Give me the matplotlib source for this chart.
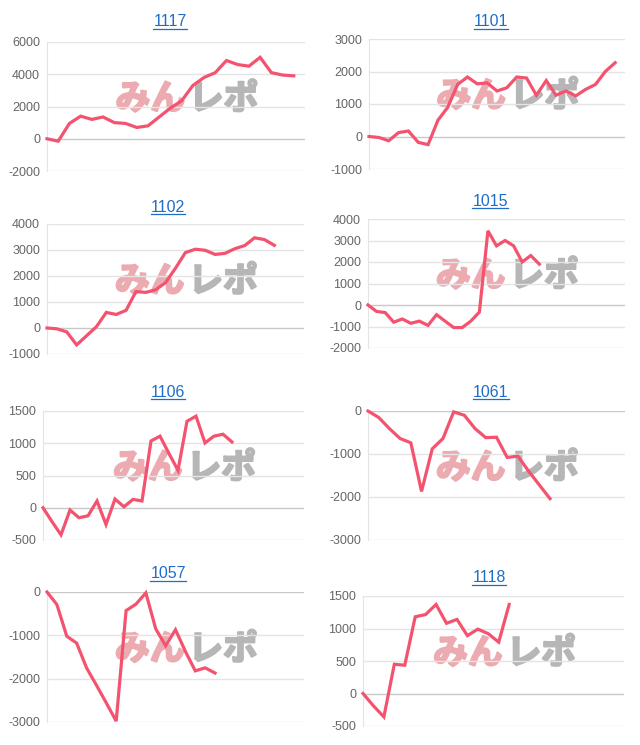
import matplotlib.pyplot as plt
import matplotlib.patheffects as pe

plt.rcParams['font.family'] = ['Liberation Sans', 'DejaVu Sans']

# 台番号ごとの差枚推移
titles = ["1117", "1101", "1102", "1015", "1106", "1061", "1057", "1118"]

v1117 = [0, -150, 950, 1400, 1200, 1350, 1000, 950, 700, 800, 1350, 1900,
         2350, 3300, 3800, 4100, 4850, 4600, 4500, 5050, 4100, 3950, 3900]
v1101 = [0, -30, -130, 120, 170, -180, -250, 500, 900, 1600, 1830, 1620,
         1650, 1400, 1500, 1830, 1800, 1270, 1720, 1270, 1400, 1250, 1450,
         1600, 2000, 2270]
v1102 = [0, -30, -150, -650, -300, 50, 600, 520, 680, 1400, 1370, 1470,
         1750, 2300, 2900, 3030, 2990, 2830, 2870, 3050, 3170, 3470, 3400, 3180]
v1015 = [0, -300, -350, -800, -650, -850, -750, -950, -450, -750, -1050,
         -1050, -750, -330, 3450, 2750, 3000, 2750, 2000, 2300, 1900]
v1106 = [0, -215, -420, -35, -155, -125, 105, -260, 135, 15, 130, 105,
         1035, 1110, 840, 580, 1340, 1420, 1005, 1110, 1140, 1020]
v1061 = [0, -150, -410, -640, -740, -1870, -880, -640, -20, -100, -410,
         -620, -610, -1080, -1050, -1400, -1720, -2040]
v1057 = [0, -290, -1020, -1180, -1750, -2150, -2560, -2980, -430, -280, -20,
         -850, -1240, -870, -1370, -1820, -1750, -1870]
v1118 = [0, -190, -360, 450, 435, 1180, 1215, 1370, 1080, 1140, 890, 990,
         920, 790, 1370]
series = [v1117, v1101, v1102, v1015, v1106, v1061, v1057, v1118]

# 横軸のカテゴリ数
slots = [24, 27, 27, 31, 30, 25, 27, 26]
ylims = [(-2000, 6000), (-1000, 3000), (-1000, 4000), (-2000, 4000),
         (-500, 1500), (-3000, 0), (-3000, 0), (-500, 1500)]
ysteps = [2000, 1000, 1000, 1000, 500, 1000, 1000, 500]

W, H = 640, 745
# 各グラフの位置 (px): left, right, top, bottom / タイトル中心
boxes = [(47, 305, 42, 171), (369, 625, 39, 169),
         (47, 304, 224, 354), (368, 625, 219, 348),
         (43, 304, 411, 540), (368, 625, 411, 540),
         (47, 304, 592, 722), (363, 624, 596, 726)]
tpos = [(170, 22), (491, 22), (168, 207), (490, 201),
        (168, 393), (491, 393), (168, 574), (489, 578)]

line_color = '#f4536f'
title_color = '#1e6ec8'
wm_font = ['Noto Sans CJK JP', 'DejaVu Sans']

fig = plt.figure(figsize=(W / 100, H / 100), dpi=100)

title_texts = []
for i, vals in enumerate(series):
    l, r, t, b = boxes[i]
    ax = fig.add_axes([l / W, 1 - b / H, (r - l) / W, (b - t) / H])
    lo, hi = ylims[i]
    ax.set_xlim(0, slots[i] - 1)
    ax.set_ylim(lo, hi)
    ticks = list(range(lo, hi + 1, ysteps[i]))
    ax.set_yticks(ticks)
    ax.set_yticklabels([str(v) for v in ticks])
    ax.set_xticks([])
    for v in ticks:
        ax.axhline(v, color='#c8c8c8' if v == 0 else '#e4e4e4', lw=1, zorder=1)
    for s in ['top', 'right', 'bottom']:
        ax.spines[s].set_visible(False)
    ax.spines['left'].set_color('#e4e4e4')
    ax.tick_params(axis='y', length=0, pad=5, labelsize=9, labelcolor='#666666')

    # 透かしロゴ
    ax.text(0.535, 0.56, "みん", transform=ax.transAxes, ha='right', va='center',
            fontsize=25, fontweight='bold', color='#ebabb0', family=wm_font,
            zorder=0, path_effects=[pe.withStroke(linewidth=1.6, foreground='#ebabb0')])
    ax.text(0.55, 0.56, "レポ", transform=ax.transAxes, ha='left', va='center',
            fontsize=25, fontweight='bold', color='#b6b6b6', family=wm_font,
            zorder=0, path_effects=[pe.withStroke(linewidth=1.6, foreground='#b6b6b6')])

    ax.plot(range(len(vals)), vals, color=line_color, lw=2.3,
            solid_joinstyle='miter', zorder=3, clip_on=False)

    tx, ty = tpos[i]
    tt = fig.text(tx / W, 1 - ty / H, titles[i], ha='center', va='center',
                  fontsize=11.5, color=title_color)
    title_texts.append(tt)

# タイトルの下線
fig.canvas.draw()
renderer = fig.canvas.get_renderer()
for tt in title_texts:
    bb = tt.get_window_extent(renderer)
    y = (bb.y0 + 1) / H
    fig.add_artist(plt.Line2D([bb.x0 / W, bb.x1 / W], [y, y],
                              color=title_color, lw=0.9))

plt.savefig("out.png", dpi=100)
